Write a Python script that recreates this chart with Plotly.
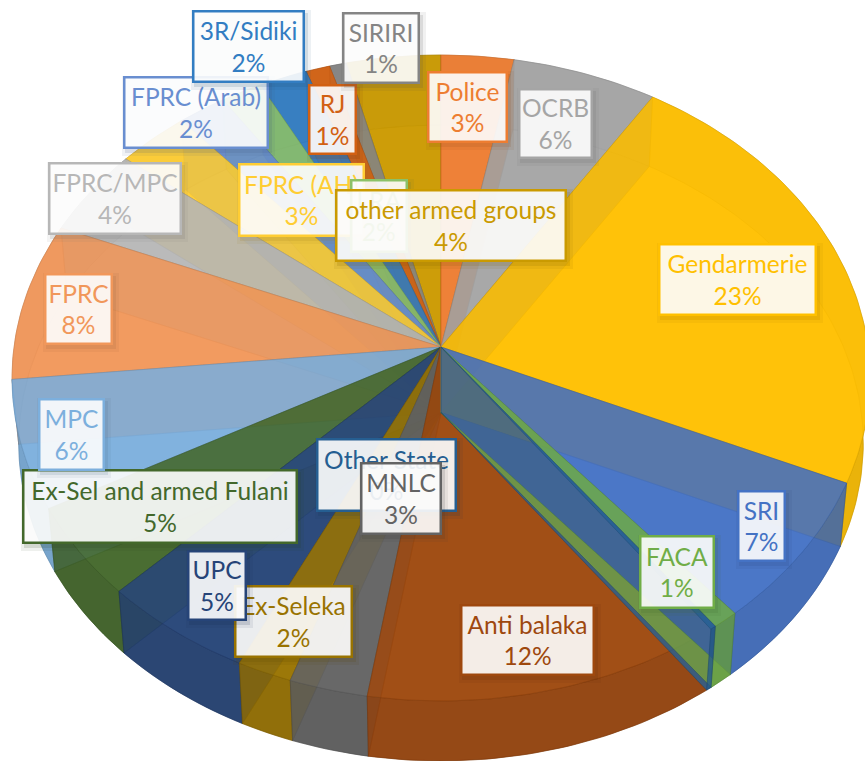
import numpy as np
import plotly.graph_objects as go

# ---- data (clockwise from 12 o'clock) ----
categories = ["Police", "OCRB", "Gendarmerie", "SRI", "FACA", "Other State", "Anti balaka",
              "MNLC", "Ex-Seleka", "UPC", "Ex-Sel and armed Fulani", "MPC", "FPRC", "FPRC/MPC",
              "FPRC (AH)", "FPRC (Arab)", "LRA", "3R/Sidiki", "RJ", "SIRIRI", "other armed groups"]
shares = [3.0, 6.0, 22.7, 7.3, 0.9, 0.2, 12.4,
          2.7, 1.9, 5.3, 4.6, 6.4, 7.9, 4.4,
          3.0, 2.0, 1.7, 2.0, 1.0, 0.7, 3.9]
colors = ["#ED7D31", "#A5A5A5", "#FFC000", "#4472C4", "#70AD47", "#255E91", "#9E480E",
          "#636363", "#997300", "#264478", "#43682B", "#7CAFDD", "#F1975A", "#B7B7B7",
          "#FFCD33", "#698ED0", "#8CC168", "#327DC2", "#D26012", "#848484", "#CA9A00"]

# label boxes: left, top, right, bottom in page pixels (layout, not data)
label_boxes = [(427, 71, 507, 142), (518, 88, 592, 158), (658, 243, 816, 315), (737, 490, 785, 561),
               (639, 535, 714, 608), (316, 438, 456, 511), (460, 604, 594, 675), (360, 462, 441, 534),
               (234, 585, 352, 657), (187, 550, 246, 620), (22, 469, 297, 543), (38, 398, 104, 470),
               (44, 273, 112, 344), (48, 162, 181, 234), (238, 163, 364, 236), (123, 76, 268, 148),
               (350, 179, 407, 252), (192, 10, 304, 82), (308, 84, 356, 154), (342, 12, 419, 83),
               (335, 189, 566, 261)]

# ---- 3-D pie projection ----
CX, CY = 441.0, 347.0
A, B, K = 427.0, 320.0, 0.096
VY, S = 4542.0, 0.9844
FONT = "Lato"
FONT_SIZE = 24.5


def top(theta):
    u, v = np.sin(theta), np.cos(theta)
    d = 1 + K * v
    return CX + A * u / d, CY - B * v / d


def bottom(x, y):
    return CX + S * (np.asarray(x) - CX), VY + S * (np.asarray(y) - VY)


def rgba(hex_c, alpha, f=1.0):
    r, g, b = (int(hex_c[i:i + 2], 16) for i in (1, 3, 5))
    return f"rgba({int(r * f)},{int(g * f)},{int(b * f)},{alpha})"


fractions = np.array(shares) / sum(shares)
edges = np.concatenate([[0], np.cumsum(fractions)]) * 2 * np.pi

fig = go.Figure()


def poly(x, y, color, alpha, f=1.0, name=None, lw=0.5):
    fig.add_trace(go.Scatter(
        x=list(x), y=list(y), mode="lines", fill="toself",
        fillcolor=rgba(color, alpha, f),
        line=dict(color=rgba(color, min(alpha + 0.1, 1), f * 0.85), width=lw),
        hoverinfo="text" if name else "skip", text=name, showlegend=False))


ax0, ay0 = CX, CY
bx0, by0 = bottom(CX, CY)
bx0, by0 = float(bx0), float(by0)


def draw_slice(i, end_wall_alpha=0.3, start_wall_alpha=0.3):
    c = colors[i]
    t = np.linspace(edges[i], edges[i + 1], max(3, int((edges[i + 1] - edges[i]) * 60)))
    xt, yt = top(t)
    xb, yb = bottom(xt, yt)
    poly(np.r_[bx0, xb, bx0], np.r_[by0, yb, by0], c, 0.8)
    poly(np.r_[ax0, xt[0], xb[0], bx0, ax0], np.r_[ay0, yt[0], yb[0], by0, ay0], c, start_wall_alpha, 0.85)
    poly(np.r_[ax0, xt[-1], xb[-1], bx0, ax0], np.r_[ay0, yt[-1], yb[-1], by0, ay0], c, end_wall_alpha, 0.85)
    poly(np.r_[xt, xb[::-1], xt[0]], np.r_[yt, yb[::-1], yt[0]], c, 0.8, 0.90)
    poly(np.r_[ax0, xt, ax0], np.r_[ay0, yt, ay0], c, 0.82, 1.0, categories[i])


# painter's order: left half back to front, the slice across the front, right half back to front
mids = (edges[:-1] + edges[1:]) / 2
straddle = [i for i in range(len(shares)) if edges[i] < np.pi < edges[i + 1]]
left = [i for i in range(len(shares)) if mids[i] > np.pi and i not in straddle][::-1]
right = [i for i in range(len(shares)) if mids[i] <= np.pi and i not in straddle]
for i in left + straddle:
    draw_slice(i)
for i in right:
    # thin slices let the neighbouring wall show through; wide ones show their own end wall
    wide = shares[i] >= 2
    draw_slice(i, end_wall_alpha=0.75 if wide else 0.06, start_wall_alpha=0.3 if wide else 0.06)

annotations = []
for name, val, c, (l, t_, r, b) in zip(categories, fractions, colors, label_boxes):
    # soft shadow built from two faint offset boxes
    for grow, a_s in ((8, 0.08), (2, 0.14)):
        annotations.append(dict(
            x=(l + r) / 2 + 3, y=(t_ + b) / 2 + 4, xref="x", yref="y", text=" ", showarrow=False,
            width=r - l + grow, height=b - t_ + grow, borderpad=0, bgcolor=rgba(c, a_s, 0.6),
            borderwidth=0, font=dict(size=8)))
    annotations.append(dict(
        x=(l + r) / 2, y=(t_ + b) / 2, xref="x", yref="y", showarrow=False,
        text=f"{name}<br>{round(val * 100):d}%", align="center", valign="middle",
        width=r - l - 4, height=b - t_ - 4, borderpad=0, borderwidth=2.5,
        bordercolor=c, bgcolor="rgba(255,255,255,0.9)",
        font=dict(family=FONT, size=FONT_SIZE, color=c)))

fig.update_layout(
    width=865, height=761, margin=dict(l=0, r=0, t=0, b=0),
    paper_bgcolor="white", plot_bgcolor="white", showlegend=False,
    xaxis=dict(range=[0, 865], visible=False, fixedrange=True),
    yaxis=dict(range=[761, 0], visible=False, fixedrange=True),
    annotations=annotations)
fig.write_html("out.html", config={"displayModeBar": False},
               post_script="document.body.style.margin='0';document.body.style.overflow='hidden';")
